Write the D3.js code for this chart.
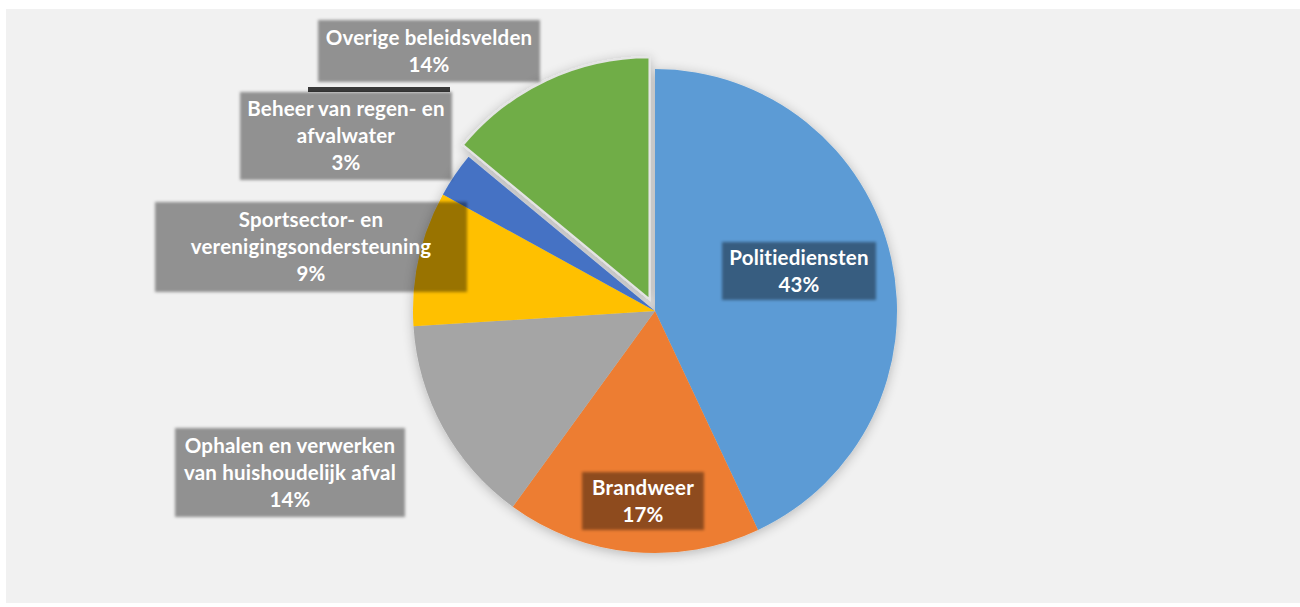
<!DOCTYPE html>
<html>
<head>
<meta charset="utf-8">
<script src="https://cdn.jsdelivr.net/npm/d3@7"></script>
<style>
  body { margin: 0; background: #fff; }
  text { font-family: Lato, "Open Sans", sans-serif; font-weight: bold; }
</style>
</head>
<body>
<div class="chart"></div>
<script>
// data
var categories = ["Politiediensten", "Brandweer", "Ophalen en verwerken van huishoudelijk afval",
                  "Sportsector- en verenigingsondersteuning", "Beheer van regen- en afvalwater", "Overige beleidsvelden"];
var values = [43, 17, 14, 9, 3, 14];
var labelLines = [
  ["Politiediensten"],
  ["Brandweer"],
  ["Ophalen en verwerken", "van huishoudelijk afval"],
  ["Sportsector- en", "verenigingsondersteuning"],
  ["Beheer van regen- en", "afvalwater"],
  ["Overige beleidsvelden"]
];
var colors = ["#5b9bd5", "#ed7d31", "#a5a5a5", "#ffc000", "#4472c4", "#70ad47"];

// label box layout (x, y = top-left, w, h)
var boxes = [
  {x: 722, y: 242, w: 154, h: 58},
  {x: 582, y: 472, w: 122, h: 58},
  {x: 175, y: 428, w: 230, h: 89},
  {x: 155, y: 202, w: 312, h: 90},
  {x: 240, y: 92, w: 212, h: 88},
  {x: 318, y: 20, w: 222, h: 62}
];

var width = 1300,
    height = 607;

var svg = d3.select(".chart").append("svg")
    .attr("width", width)
    .attr("height", height);

var defs = svg.append("defs");
var blur = defs.append("filter").attr("id", "soft")
    .attr("x", "-10%").attr("y", "-10%").attr("width", "120%").attr("height", "120%");
blur.append("feGaussianBlur").attr("stdDeviation", 1.6);

var shadow = defs.append("filter").attr("id", "pieshadow")
    .attr("x", "-20%").attr("y", "-20%").attr("width", "140%").attr("height", "140%");
shadow.append("feGaussianBlur").attr("in", "SourceAlpha").attr("stdDeviation", 6).attr("result", "b");
shadow.append("feOffset").attr("in", "b").attr("dy", 2).attr("result", "o");
shadow.append("feComponentTransfer").attr("in", "o").attr("result", "s")
  .append("feFuncA").attr("type", "linear").attr("slope", 0.25);
var merge = shadow.append("feMerge");
merge.append("feMergeNode").attr("in", "s");
merge.append("feMergeNode").attr("in", "SourceGraphic");

svg.append("rect")
    .attr("x", 6).attr("y", 9)
    .attr("width", width - 6).attr("height", 594)
    .attr("fill", "#f1f1f1");

var cx = 655, cy = 311, r = 242;

var pie = d3.pie().sort(null).value(function(d) { return d; });
var arc = d3.arc().innerRadius(0).outerRadius(r);
var arcs = pie(values);

var pieG = svg.append("g")
    .attr("transform", "translate(" + cx + "," + cy + ")")
    .attr("filter", "url(#pieshadow)");

pieG.selectAll("path")
    .data(arcs)
    .enter().append("path")
    .attr("d", arc)
    .attr("fill", function(d, i) { return colors[i]; })
    .attr("transform", function(d, i) {
      if (i !== 5) return null;
      var a = (d.startAngle + d.endAngle) / 2, off = 13;
      return "translate(" + (Math.sin(a) * off) + "," + (-Math.cos(a) * off) + ")";
    })
    .attr("stroke", function(d, i) { return i === 5 ? "#e4e4e4" : "none"; })
    .attr("stroke-width", 2);

// odd dark bar above the Beheer label
svg.append("rect")
    .attr("x", 308).attr("y", 87).attr("width", 142).attr("height", 5)
    .attr("fill", "#3a3a3a");

var labels = svg.append("g").selectAll("g")
    .data(arcs)
    .enter().append("g");

labels.append("rect")
    .attr("x", function(d, i) { return boxes[i].x; })
    .attr("y", function(d, i) { return boxes[i].y; })
    .attr("width", function(d, i) { return boxes[i].w; })
    .attr("height", function(d, i) { return boxes[i].h; })
    .attr("fill", "#000")
    .attr("fill-opacity", 0.4)
    .attr("filter", "url(#soft)");

labels.each(function(d, i) {
  var b = boxes[i];
  var lines = labelLines[i].concat([values[i] + "%"]);
  var n = lines.length, lh = 27;
  var top = b.y + b.h / 2 - (n - 1) * lh / 2;
  var t = d3.select(this).append("text")
      .attr("text-anchor", "middle")
      .attr("fill", "#fff")
      .attr("font-size", 20.5)
      .attr("letter-spacing", 0.2);
  lines.forEach(function(l, k) {
    t.append("tspan")
      .attr("x", b.x + b.w / 2)
      .attr("y", top + k * lh)
      .attr("dy", "0.35em")
      .text(l);
  });
});
</script>
</body>
</html>
